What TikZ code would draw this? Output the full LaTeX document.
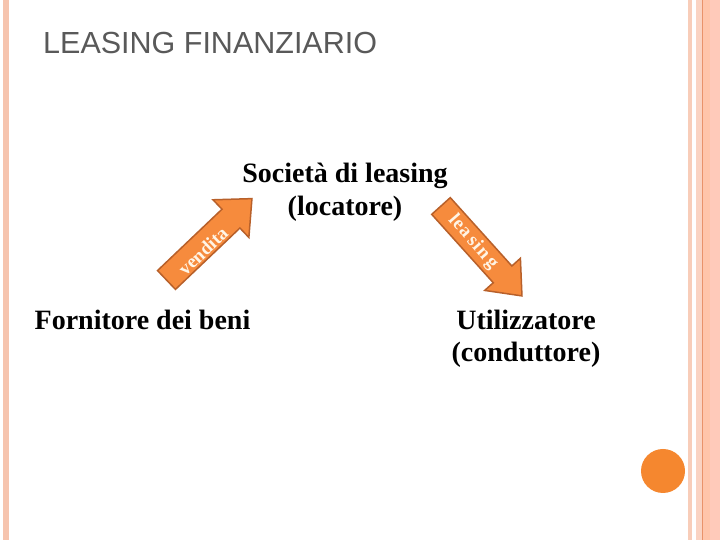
\documentclass[tikz,border=0pt]{standalone}
\usepackage{fontspec}
\setmainfont{Liberation Serif}
\newfontfamily\arialfont{Liberation Sans}
\definecolor{titlegray}{HTML}{595959}
\definecolor{arrowfill}{HTML}{F68B3D}
\definecolor{arrowline}{HTML}{B8602A}
\definecolor{arrowtext}{HTML}{FFF5E6}
\definecolor{dotorange}{HTML}{F5872F}
\definecolor{stripeA}{HTML}{F6C4AE}
\definecolor{stripeB}{HTML}{F8CDB9}
\definecolor{stripeC}{HTML}{FAD3C2}
\definecolor{stripeD}{HTML}{E9936A}
\definecolor{stripeE}{HTML}{FFC5AA}
\definecolor{stripeF}{HTML}{FFCABA}
\tikzset{
  bigtext/.style={inner sep=0pt, align=center, font=\fontsize{28}{33}\selectfont\bfseries},
  blockarrow/.style={fill=arrowfill, draw=arrowline, line width=1.5pt, line join=miter},
  arrowlbl/.style={inner sep=0pt, text=arrowtext, font=\fontsize{19}{21}\selectfont\bfseries},
}
\begin{document}
\begin{tikzpicture}[x=1pt,y=1pt]
\useasboundingbox[fill=white] (0,0) rectangle (720,540);
% side stripes
\fill[stripeA] (3,0) rectangle (9,540);
\fill[stripeB] (688,0) rectangle (692,540);
\fill[stripeC] (696,0) rectangle (702,540);
\fill[stripeD] (702,0) rectangle (703.3,540);
\fill[stripeE] (703.3,0) rectangle (710,540);
\fill[stripeF] (710,0) rectangle (720,540);
% title
\node[anchor=base west, inner sep=0pt, text=titlegray, font=\arialfont\fontsize{30.5}{36}\selectfont] (title) at (43,486.5) {LEASING FINANZIARIO};
% texts (base anchor = baseline of last line)
\node[bigtext, anchor=base] (soc) at (345,324) {Società di leasing\\(locatore)};
\node[bigtext, anchor=base] (forn) at (142.5,210) {Fornitore dei beni};
\node[bigtext, anchor=base, font=\fontsize{28}{32}\selectfont\bfseries] (util) at (526,178.3) {Utilizzatore\\(conduttore)};
% arrows
\coordinate (sL) at (166.5,260);
\coordinate (sR) at (441,334);
\draw[blockarrow, shift={(sL)}, rotate=43.6] (0,-13) -- (89,-13) -- (89,-26) -- (118,0) -- (89,26) -- (89,13) -- (0,13) -- cycle;
\draw[blockarrow, shift={(sR)}, rotate=-48] (0,-12.5) -- (92,-12.5) -- (92,-24) -- (121,0) -- (92,24) -- (92,12.5) -- (0,12.5) -- cycle;
\node[arrowlbl, rotate=43.6] (vend) at (203,289) {vendita};
\node[arrowlbl, rotate=-49] (leas) at (473,298) {l\kern1pt e\kern1pt a\kern3pt s\kern1pt i\kern1pt n\kern3pt g};
% dot
\fill[dotorange] (663,69) circle (22);
\end{tikzpicture}
\end{document}
